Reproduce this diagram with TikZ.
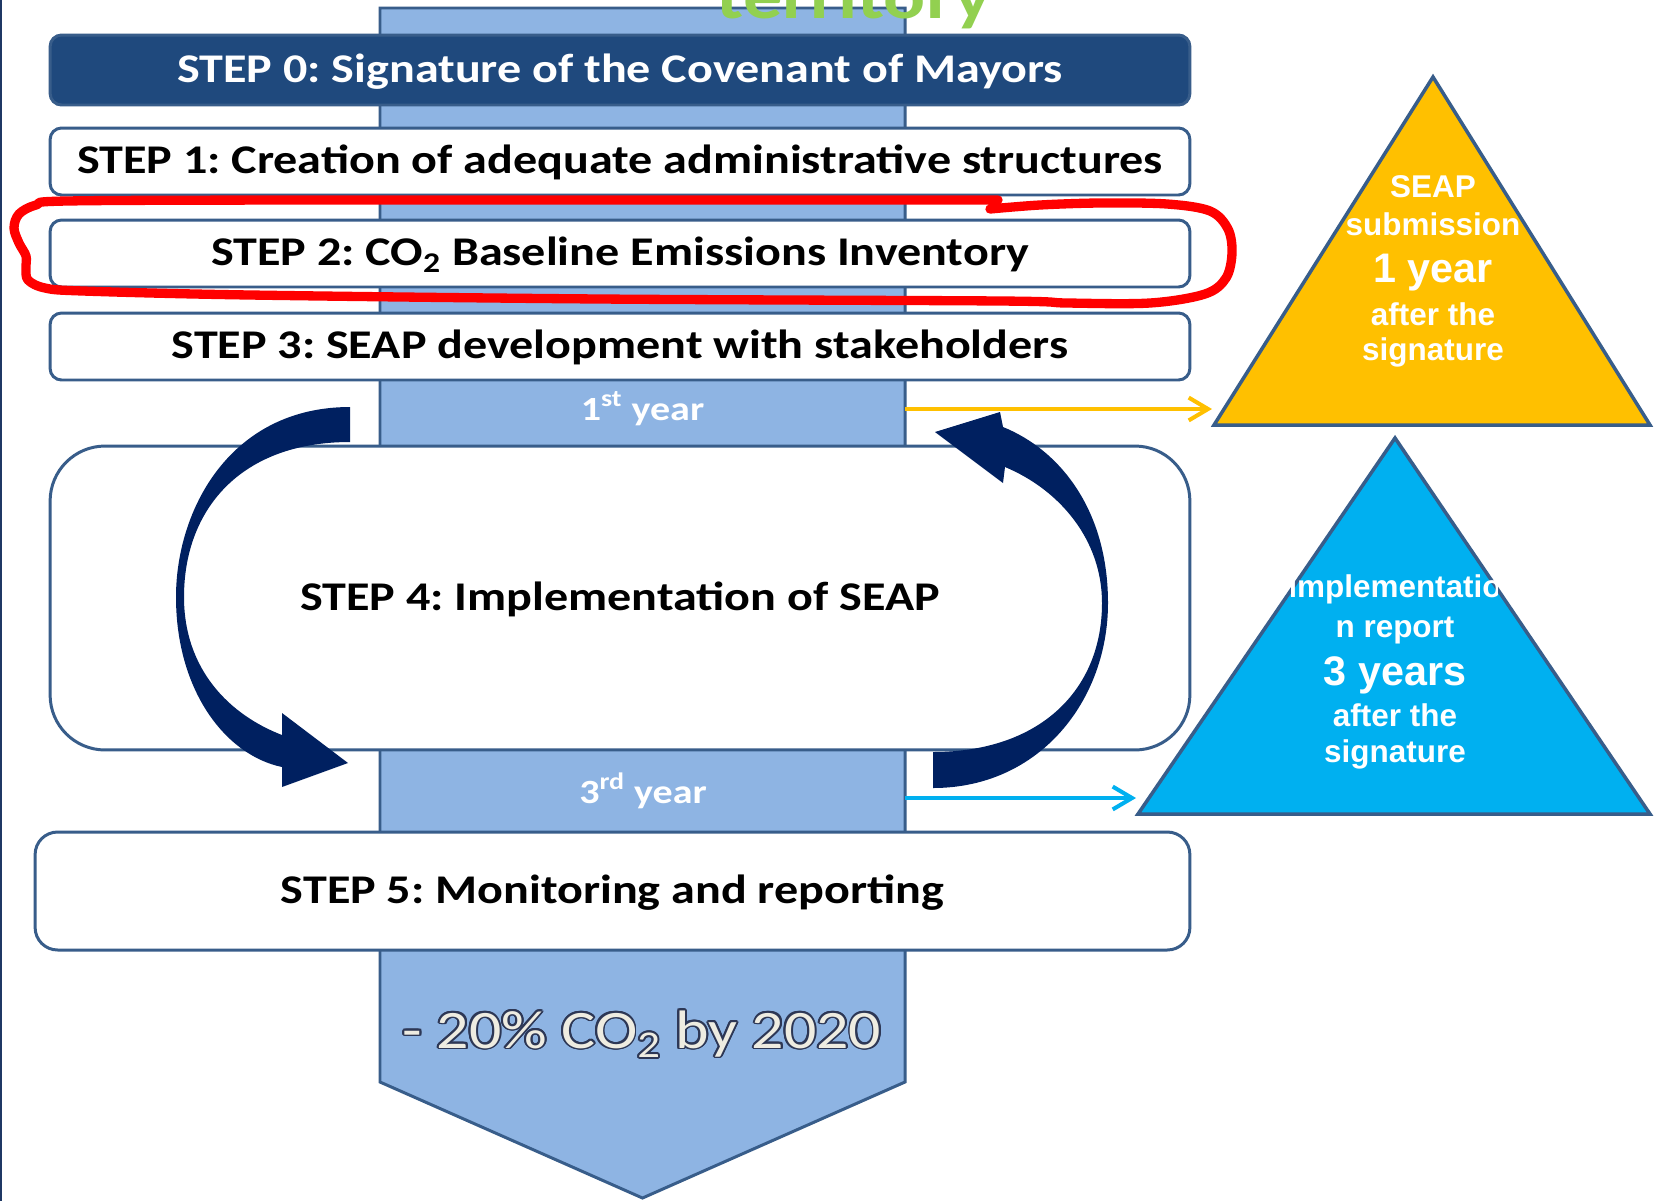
\documentclass[tikz,border=0pt]{standalone}
\usepackage{fontspec}
\setmainfont{Carlito}
\newfontfamily\stepfam[FakeStretch=1.18]{Carlito}
\newfontfamily\arialfam{Liberation Sans}
\usepackage{contour}
\usetikzlibrary{arrows.meta}
\frenchspacing
\definecolor{bordc}{RGB}{56,93,138}
\definecolor{navyfill}{RGB}{31,73,125}
\definecolor{bandfill}{RGB}{142,180,227}
\definecolor{arrownavy}{RGB}{0,32,96}
\definecolor{gold}{RGB}{255,192,0}
\definecolor{skyc}{RGB}{0,176,240}
\definecolor{leafgreen}{RGB}{146,208,80}
\definecolor{creamc}{RGB}{238,236,225}
\definecolor{glowc}{RGB}{45,55,85}
\definecolor{edgec}{RGB}{31,56,100}
\tikzset{
 stepbox/.style={draw=bordc, line width=1.7pt, fill=white, rounded corners=6.5pt, inner sep=0pt,
   minimum width=22.8cm, text height=16pt, text depth=1.8pt,
   font=\stepfam\bfseries\fontsize{23.2}{27}\selectfont, text=black},
 yearlbl/.style={anchor=base, inner sep=0pt, text=white, font=\stepfam\bfseries\fontsize{19.3}{23}\selectfont},
 trismall/.style={anchor=base, inner sep=0pt, text=white, font=\arialfam\bfseries\fontsize{17.9}{21}\selectfont},
 tribig/.style={anchor=base, inner sep=0pt, text=white, font=\arialfam\bfseries\fontsize{23.5}{28}\selectfont},
 cycarrow/.style={fill=arrownavy, draw=none},
 tri/.style={draw=bordc, line width=2pt, line join=miter},
 link/.style={line width=2.3pt, -{Straight Barb[length=11pt,width=13pt]}},
 loopmark/.style={draw=red, line width=5.3pt, line cap=round, line join=round},
}
\begin{document}
\begin{tikzpicture}[x=0.02cm,y=-0.02cm]
\path[use as bounding box] (0,0) rectangle (1656,1201);
\clip (0,0) rectangle (1656,1201);
\fill[white] (0,0) rectangle (1656,1201);

% central band arrow
\draw[fill=bandfill, draw=bordc, line width=1.7pt, line join=miter]
  (380,8) -- (905,8) -- (905,1082) -- (642.5,1198) -- (380,1082) -- cycle;

\node[anchor=base, inner sep=0pt, text=leafgreen, font=\stepfam\bfseries\fontsize{37.8}{40}\selectfont] (territory) at (854,18.5) {territory};

% steps
\node[stepbox, fill=navyfill, text=white, minimum height=1.4cm] (s0) at (620,70) {STEP 0: Signature of the Covenant of Mayors};
\node[stepbox, minimum height=1.34cm] (s1) at (620,161.5) {STEP 1: Creation of adequate administrative structures};
\node[stepbox, minimum height=1.34cm] (s2) at (620,253.5) {STEP 2: CO\textsubscript{2} Baseline Emissions Inventory};
\node[stepbox, minimum height=1.34cm] (s3) at (620,346.5) {STEP 3: SEAP development with stakeholders};
\node[stepbox, minimum height=6.08cm, rounded corners=1.1cm] (s4) at (620,598) {STEP 4: Implementation of SEAP};
\node[stepbox, minimum width=23.1cm, minimum height=2.36cm, rounded corners=0.45cm] (s5) at (612.5,891) {STEP 5: Monitoring and reporting};

% year labels
\node[yearlbl] (y1) at (642.5,420) {1\textsuperscript{st} year};
\node[yearlbl] (y3) at (643,803) {3\textsuperscript{rd} year};

% goal text
\contourlength{1.1pt}
\node[anchor=base, inner sep=0pt, text=creamc, font=\stepfam\fontsize{30.8}{34}\selectfont] (goal) at (642,1048) {\contour{glowc}{- 20\% CO\textsubscript{2} by 2020}};

% cycle arrows
\fill[cycarrow] (350,407) .. controls (230,407) and (176,510) .. (176,597)
  .. controls (176,690) and (225,755) .. (282,767) -- (282,787) -- (348,763) -- (282,713) -- (282,735)
  .. controls (230,715) and (184,670) .. (184,597) .. controls (184,510) and (240,442) .. (350,442) -- cycle;
\fill[cycarrow] (933,788) .. controls (1040,788) and (1108,700) .. (1108,603)
  .. controls (1108,510) and (1060,450) .. (1003,427) -- (1000,412) -- (935,432) -- (1003,483) -- (1005,467)
  .. controls (1060,490) and (1102,540) .. (1102,603) .. controls (1102,690) and (1040,752) .. (933,752) -- cycle;

% triangles
\draw[tri, fill=gold] (1433,77) -- (1650,425) -- (1214,425) -- cycle;
\draw[tri, fill=skyc] (1395,438) -- (1650,814) -- (1138,814) -- cycle;

\node[trismall] (t1a) at (1433,197.5) {SEAP};
\node[trismall] (t1b) at (1433,235) {submission};
\node[tribig]   (t1c) at (1433,282.5) {1 year};
\node[trismall] (t1d) at (1433,325) {after the};
\node[trismall] (t1e) at (1433,360) {signature};

\begin{scope}
\clip (1291,560) rectangle (1497,612);
\node[trismall] (t2a) at (1395,597.5) {Implementatio};
\end{scope}
\node[trismall] (t2b) at (1395,637.5) {n report};
\node[tribig]   (t2c) at (1395,685) {3 years};
\node[trismall] (t2d) at (1395,726.5) {after the};
\node[trismall] (t2e) at (1395,762.5) {signature};

% connectors
\coordinate (b1) at (905,409);
\coordinate (t1end) at (1212,409);
\coordinate (b3) at (905,798);
\coordinate (t2end) at (1136,798);
\draw[link, draw=gold] (b1) -- (t1end);
\draw[link, draw=skyc] (b3) -- (t2end);

% red hand-drawn loop
\draw[loopmark] plot[smooth, tension=0.55] coordinates {
 (990,209) (1040,205) (1100,203) (1167,204) (1210,211) (1228,229) (1232,253) (1226,278)
 (1205,294) (1150,303) (1067,303) (1000,301) (600,299) (250,295) (83,291) (45,288)
 (28,280) (26,268) (26,256) (19,243) (14,228) (19,214) (36,205) (67,201) (300,200)
 (700,200) (950,200) (998,200)};

% left slide edge
\draw[edgec, line width=1.5pt] (1,0) -- (1,1201);
\end{tikzpicture}
\end{document}
